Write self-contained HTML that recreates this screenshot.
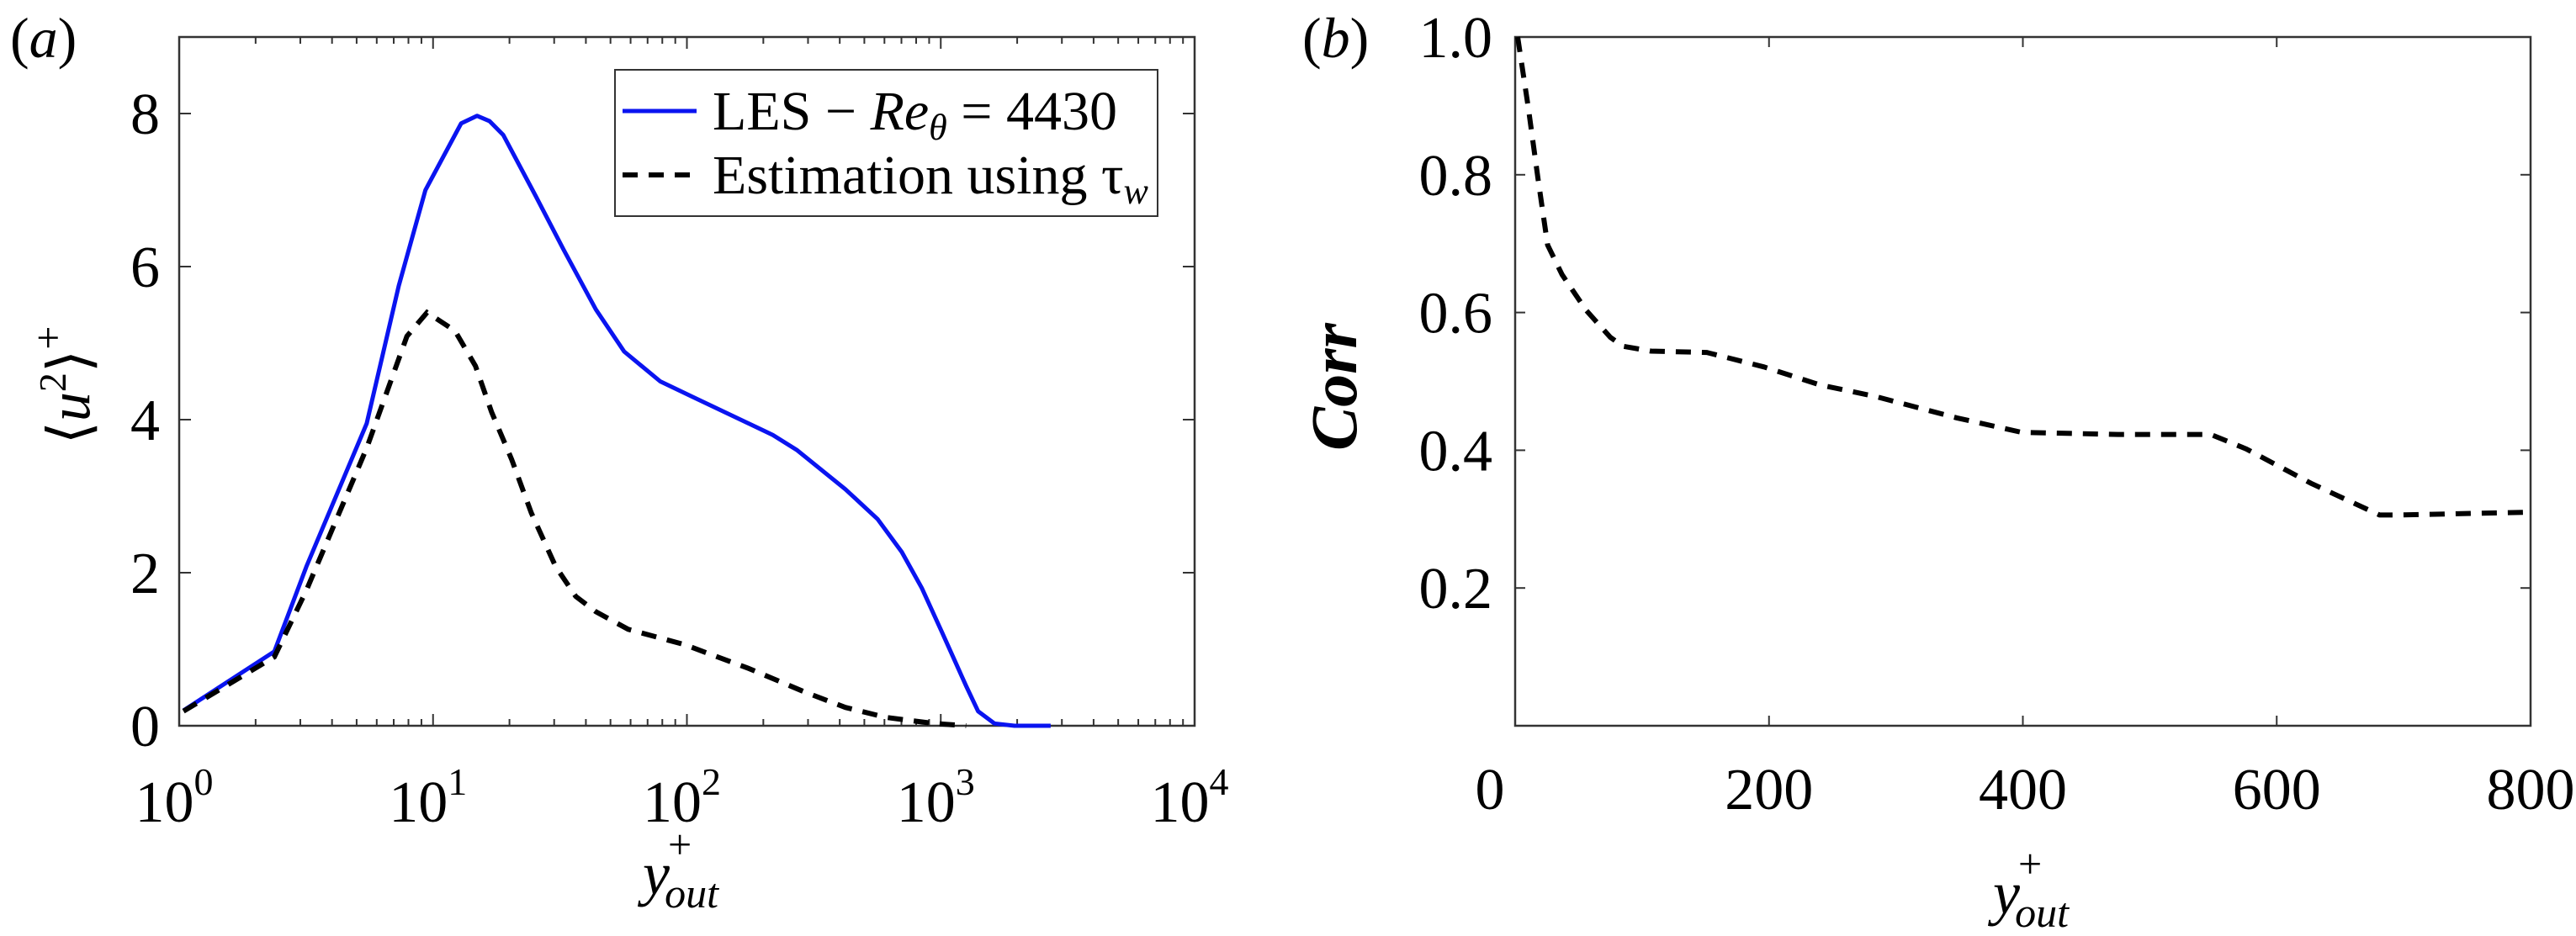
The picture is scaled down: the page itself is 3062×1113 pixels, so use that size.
<!DOCTYPE html>
<html><head><meta charset="utf-8"><style>
html,body{margin:0;padding:0;background:#fff;}
svg{display:block;}
svg text{font-family:"Liberation Serif","DejaVu Serif",serif;}
</style></head><body>
<svg id="fig" width="3062" height="1113" viewBox="0 0 3062 1113" xmlns="http://www.w3.org/2000/svg" font-family="Liberation Serif, DejaVu Serif, serif">
<text x="12" y="68" font-size="68">(<tspan font-style="italic">a</tspan>)</text>
<text x="1548" y="68" font-size="68">(<tspan font-style="italic">b</tspan>)</text>
<text transform="translate(106,458) rotate(-90)" text-anchor="middle" font-size="70">⟨<tspan font-style="italic">u</tspan><tspan font-size="46" dy="-28">2</tspan><tspan dy="28">⟩</tspan><tspan font-size="50" dy="-32">+</tspan></text>
<text x="764" y="1063" font-size="72" font-style="italic">y<tspan font-size="50" font-style="normal" dx="-2" dy="-42">+</tspan><tspan font-size="50" dx="-32" dy="58">out</tspan></text>
<text transform="translate(1612,460) rotate(-90)" text-anchor="middle" font-size="78" font-style="italic" font-weight="bold">Corr</text>
<text x="2369" y="1086" font-size="72" font-style="italic">y<tspan font-size="50" font-style="normal" dx="-2" dy="-42">+</tspan><tspan font-size="50" dx="-32" dy="58">out</tspan></text>
<g id="ga"></g><g id="gb"></g>
</svg>
<script>
// Panel (a) data
const blueX=[1.04,2.37,3.17,5.48,7.33,9.33,12.9,14.9,16.7,18.9,25.4,32.7,43.8,56.6,78.5,105,218,272,421,564,702,842,1012,1259,1403,1626,1950,2710];
const blueY=[0.2,0.97,2.08,3.95,5.75,7.0,7.87,7.97,7.9,7.72,6.92,6.22,5.44,4.89,4.5,4.3,3.8,3.6,3.09,2.7,2.27,1.8,1.22,0.52,0.19,0.03,0.0,0.0];
const estX=[1.04,2.37,3.17,5.48,7.89,9.47,12.2,14.7,17,20.4,24.4,30.4,36.5,43.8,58.7,97.8,175,292,421,607,940,1259];
const estY=[0.19,0.9,1.77,3.63,5.09,5.4,5.16,4.7,4.1,3.48,2.78,2.08,1.69,1.49,1.26,1.06,0.75,0.44,0.24,0.11,0.03,0.0];
const aYTicks=[0,2,4,6,8];
const aXTickExp=[0,1,2,3,4];
// Panel (b) data
const corrX=[2,10.4,18,25.6,37,56,75,85,107,151,196,240,284,348,399,475,548,576,627,681,696,797];
const corrY=[1.0,0.897,0.794,0.698,0.655,0.603,0.564,0.551,0.544,0.542,0.521,0.495,0.478,0.447,0.426,0.423,0.423,0.402,0.352,0.306,0.306,0.31];
const bXTicks=[0,200,400,600,800];
const bYTicks=[0.2,0.4,0.6,0.8,1.0];

const NS="http://www.w3.org/2000/svg";
function mk(parent,tag,attrs){const e=document.createElementNS(NS,tag);for(const k in attrs)e.setAttribute(k,attrs[k]);parent.appendChild(e);return e;}
const FF='Liberation Serif, DejaVu Serif, serif';

// Panel a
const A={l:213,r:1420,t:44,b:863};
const ax=v=>A.l+(Math.log10(v))*(A.r-A.l)/4;
const ay=v=>A.b-v*(A.b-A.t)/9;
const ga=document.getElementById('ga');
let fr=mk(ga,'rect',{x:A.l,y:A.t,width:A.r-A.l,height:A.b-A.t,fill:'none',stroke:'#333','stroke-width':2.5});


for(let d=0;d<4;d++){for(let m=2;m<=9;m++){const x=ax(m*Math.pow(10,d));
 mk(ga,'line',{x1:x,x2:x,y1:A.b,y2:A.b-8,stroke:'#333','stroke-width':2});
 mk(ga,'line',{x1:x,x2:x,y1:A.t,y2:A.t+8,stroke:'#333','stroke-width':2});}}
aXTickExp.forEach(e=>{const x=ax(Math.pow(10,e));
 mk(ga,'line',{x1:x,x2:x,y1:A.b,y2:A.b-14,stroke:'#333','stroke-width':2});
 mk(ga,'line',{x1:x,x2:x,y1:A.t,y2:A.t+14,stroke:'#333','stroke-width':2});
 const t=mk(ga,'text',{x:x-6,y:977,'font-size':70,'text-anchor':'middle','font-family':FF});
 
 
 t.textContent='10';const s=mk(t,'tspan',{'font-size':46,dy:-32});s.textContent=String(e);});
aYTicks.forEach(v=>{const y=ay(v);
 mk(ga,'line',{x1:A.l,x2:A.l+14,y1:y,y2:y,stroke:'#333','stroke-width':2});
 mk(ga,'line',{x1:A.r,x2:A.r-14,y1:y,y2:y,stroke:'#333','stroke-width':2});
 const t=mk(ga,'text',{x:190,y:y+24,'font-size':70,'text-anchor':'end','font-family':FF});
 
 
 t.textContent=String(v);});
function pathOf(xs,ys,fx,fy){return xs.map((v,i)=>(i?'L':'M')+fx(v).toFixed(1)+','+fy(ys[i]).toFixed(1)).join('');}
let pb=mk(ga,'path',{d:pathOf(blueX,blueY,ax,ay),fill:'none',stroke:'#0a14f0','stroke-width':5,'stroke-linejoin':'round'});


let pe=mk(ga,'path',{d:pathOf(estX,estY,ax,ay),fill:'none',stroke:'#000','stroke-width':6,'stroke-dasharray':'18 13'});


// legend
const lg=mk(ga,'g',{});


mk(lg,'rect',{x:731,y:83,width:645,height:174,fill:'#fff',stroke:'#333','stroke-width':2});
mk(lg,'line',{x1:740,x2:828,y1:132,y2:132,stroke:'#0a14f0','stroke-width':5});
mk(lg,'line',{x1:740,x2:828,y1:208,y2:208,stroke:'#000','stroke-width':6,'stroke-dasharray':'18 13'});
let t1=mk(lg,'text',{x:847,y:154,'font-size':66,'font-family':FF});


t1.innerHTML='LES − <tspan font-style="italic">Re</tspan><tspan font-style="italic" font-size="44" dy="12">θ</tspan><tspan dy="-12"> = 4430</tspan>';
let t2=mk(lg,'text',{x:847,y:230,'font-size':66,'font-family':FF});


t2.innerHTML='Estimation using τ<tspan font-style="italic" font-size="44" dy="12">w</tspan>';

// Panel b
const B={l:1801,r:3008,t:44,b:863};
const bx=v=>B.l+v*(B.r-B.l)/800;
const by=v=>B.b-v*(B.b-B.t);
const gb=document.getElementById('gb');
let fb=mk(gb,'rect',{x:B.l,y:B.t,width:B.r-B.l,height:B.b-B.t,fill:'none',stroke:'#333','stroke-width':2.5});


bXTicks.forEach(v=>{const x=bx(v);
 mk(gb,'line',{x1:x,x2:x,y1:B.b,y2:B.b-12,stroke:'#333','stroke-width':2});
 mk(gb,'line',{x1:x,x2:x,y1:B.t,y2:B.t+12,stroke:'#333','stroke-width':2});
 const t=mk(gb,'text',{x:x-(v===0?30:0),y:962,'font-size':70,'text-anchor':'middle','font-family':FF});
 
 
 t.textContent=String(v);});
bYTicks.forEach(v=>{const y=by(v);
 mk(gb,'line',{x1:B.l,x2:B.l+12,y1:y,y2:y,stroke:'#333','stroke-width':2});
 mk(gb,'line',{x1:B.r,x2:B.r-12,y1:y,y2:y,stroke:'#333','stroke-width':2});
 const t=mk(gb,'text',{x:1774,y:y+24,'font-size':70,'text-anchor':'end','font-family':FF});
 
 
 t.textContent=v.toFixed(1);});
let pc=mk(gb,'path',{d:pathOf(corrX,corrY,bx,by),fill:'none',stroke:'#000','stroke-width':6,'stroke-dasharray':'18 13'});


</script>
</body></html>
